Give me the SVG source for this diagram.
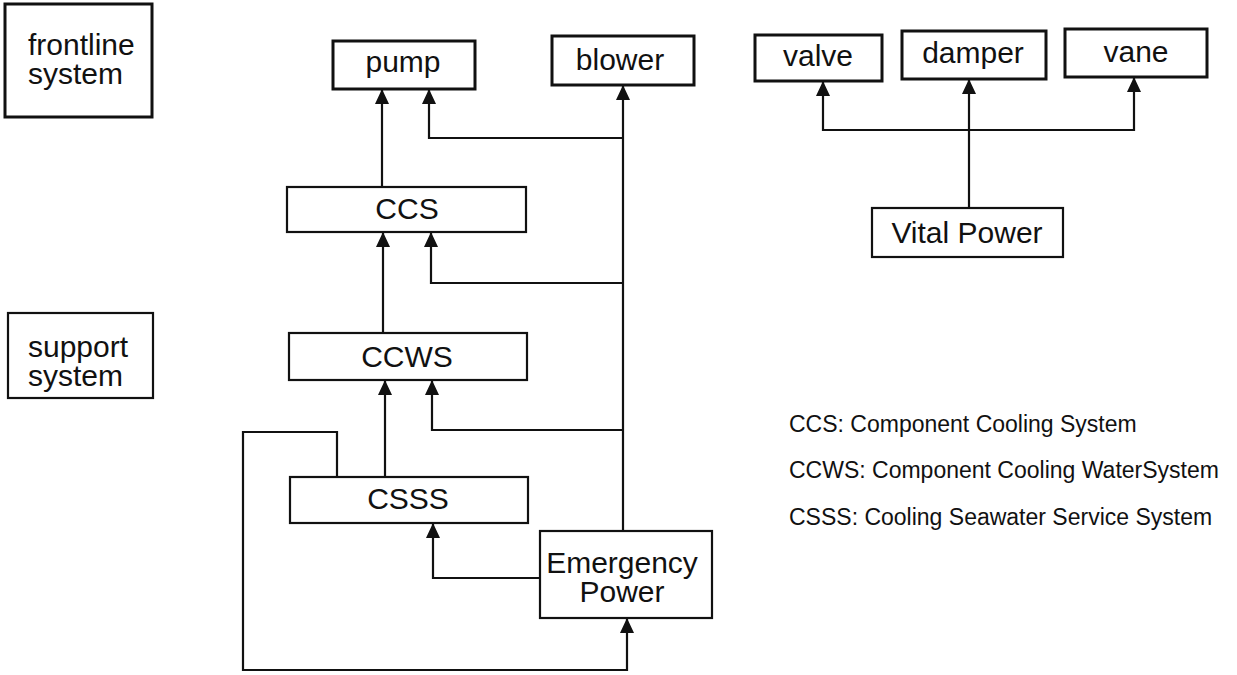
<svg xmlns="http://www.w3.org/2000/svg" width="1237" height="675" viewBox="0 0 1237 675">
<style>
.box{fill:#fff;stroke:#111;stroke-width:2.2}
.bold{stroke-width:3}
.t{font-family:"Liberation Sans",Arial,sans-serif;font-size:30px;fill:#111;text-anchor:middle}
.tl{font-family:"Liberation Sans",Arial,sans-serif;font-size:30px;fill:#111}
.lg{font-family:"Liberation Sans",Arial,sans-serif;font-size:23px;fill:#111}
.c{fill:none;stroke:#111;stroke-width:2.2}
</style>
<defs>
<marker id="ah" markerUnits="userSpaceOnUse" markerWidth="16" markerHeight="16" viewBox="0 0 16 16" refX="15" refY="8" orient="auto">
<path d="M0,1 L15,8 L0,15 Z" fill="#111"/>
</marker>
</defs>
<rect width="1237" height="675" fill="#fff"/>
<g id="connectors">
<path class="c" d="M382,187 V89" marker-end="url(#ah)"/>
<path class="c" d="M623,531 V85" marker-end="url(#ah)"/>
<path class="c" d="M623,138 H429 V89" marker-end="url(#ah)"/>
<path class="c" d="M623,283 H431 V232" marker-end="url(#ah)"/>
<path class="c" d="M383,333 V232" marker-end="url(#ah)"/>
<path class="c" d="M623,430 H432 V380" marker-end="url(#ah)"/>
<path class="c" d="M385,477 V380" marker-end="url(#ah)"/>
<path class="c" d="M540,578 H433 V523" marker-end="url(#ah)"/>
<path class="c" d="M337,477 V432 H243 V670 H627 V618" marker-end="url(#ah)"/>
<path class="c" d="M969,208 V79" marker-end="url(#ah)"/>
<path class="c" d="M969,130 H823 V81" marker-end="url(#ah)"/>
<path class="c" d="M969,130 H1134 V77" marker-end="url(#ah)"/>
</g>
<g id="frontline">
<rect class="box bold" x="5" y="4" width="147" height="113"/>
<text class="tl" x="28" y="55">frontline</text>
<text class="tl" x="28" y="84">system</text>
</g>
<g id="support">
<rect class="box" x="8" y="313" width="145" height="85"/>
<text class="tl" x="28" y="357">support</text>
<text class="tl" x="28" y="386">system</text>
</g>
<g id="pump">
<rect class="box bold" x="333" y="41" width="142" height="48"/>
<text class="t" x="403" y="72">pump</text>
</g>
<g id="blower">
<rect class="box bold" x="552" y="36" width="142" height="49"/>
<text class="t" x="620" y="70">blower</text>
</g>
<g id="valve">
<rect class="box bold" x="755" y="35" width="127" height="46"/>
<text class="t" x="818" y="66">valve</text>
</g>
<g id="damper">
<rect class="box bold" x="902" y="31" width="144" height="48"/>
<text class="t" x="973" y="63">damper</text>
</g>
<g id="vane">
<rect class="box bold" x="1065" y="29" width="142" height="48"/>
<text class="t" x="1136" y="62">vane</text>
</g>
<g id="vital">
<rect class="box" x="872" y="208" width="191" height="49"/>
<text class="t" x="967" y="243">Vital Power</text>
</g>
<g id="ccs">
<rect class="box" x="287" y="187" width="239" height="45"/>
<text class="t" x="407" y="219">CCS</text>
</g>
<g id="ccws">
<rect class="box" x="289" y="333" width="238" height="47"/>
<text class="t" x="407" y="367">CCWS</text>
</g>
<g id="csss">
<rect class="box" x="290" y="477" width="238" height="46"/>
<text class="t" x="408" y="509">CSSS</text>
</g>
<g id="emergency">
<rect class="box" x="540" y="531" width="172" height="87"/>
<text class="t" x="622" y="573">Emergency</text>
<text class="t" x="622" y="602">Power</text>
</g>
<g id="legend">
<text class="lg" x="789" y="432">CCS: Component Cooling System</text>
<text class="lg" x="789" y="478">CCWS: Component Cooling WaterSystem</text>
<text class="lg" x="789" y="525">CSSS: Cooling Seawater Service System</text>
</g>
</svg>
